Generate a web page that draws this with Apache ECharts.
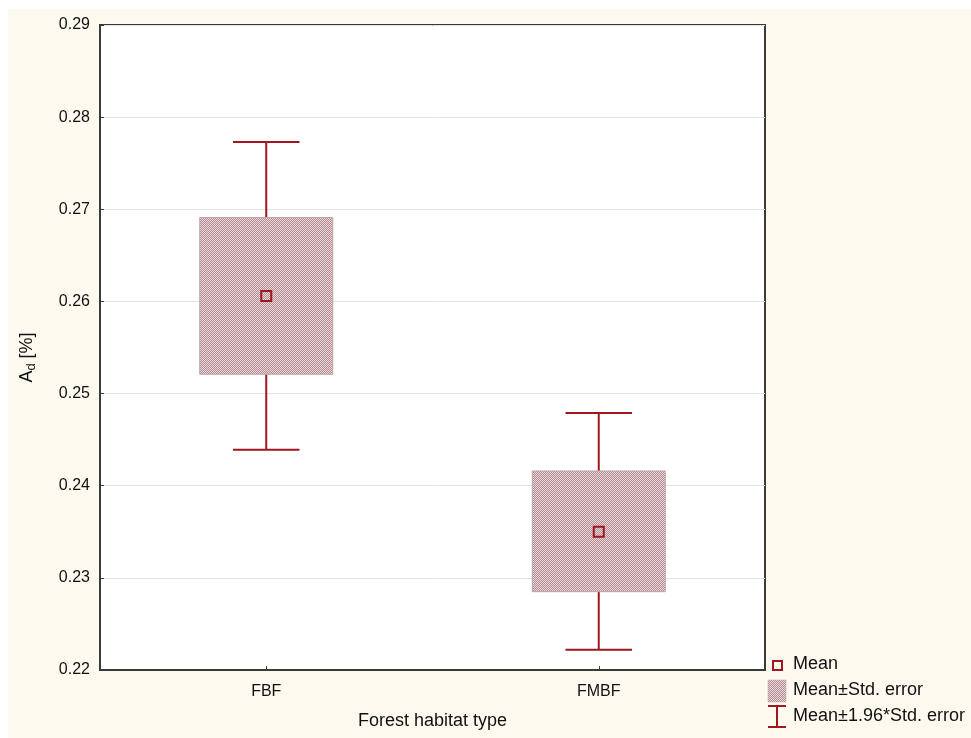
<!DOCTYPE html>
<html>
<head>
<meta charset="utf-8">
<script src="https://cdn.jsdelivr.net/npm/echarts@6/dist/echarts.min.js"></script>
<style>
html,body{margin:0;padding:0;background:#ffffff;}
#chart{position:absolute;left:8px;top:9px;width:963px;height:729px;background:#fdf9ef;}
</style>
</head>
<body>
<div id="chart"></div>
<script>
// ---- data ----
const categories = ['FBF', 'FMBF'];
const means = [0.2606, 0.2350];
const seLow = [0.2521, 0.2285];
const seHigh = [0.2691, 0.2416];
const ciLow = [0.2439, 0.2222];
const ciHigh = [0.2773, 0.2479];
const yTicks = [0.22, 0.23, 0.24, 0.25, 0.26, 0.27, 0.28, 0.29];
const legendLabels = ['Mean', 'Mean±Std. error', 'Mean±1.96*Std. error'];

const RED = '#a0171e';
const FONT = '"Liberation Sans", Arial, sans-serif';

// checkerboard pattern for boxes
const pc = document.createElement('canvas');
pc.width = 2; pc.height = 2;
const pctx = pc.getContext('2d');
pctx.fillStyle = '#e6d8da'; pctx.fillRect(0, 0, 2, 2);
pctx.fillStyle = '#b68c92'; pctx.fillRect(0, 0, 1, 1); pctx.fillRect(1, 1, 1, 1);
const pattern = {image: pc, repeat: 'repeat'};

const chart = echarts.init(document.getElementById('chart'), null, {renderer: 'canvas'});

const whiskerData = categories.map((c, i) => [i, ciLow[i], ciHigh[i], seLow[i], seHigh[i]]);
const boxData = categories.map((c, i) => [i, seLow[i], seHigh[i]]);
const meanData = categories.map((c, i) => [i, means[i]]);

// legend geometry (container coords)
const LX = 760, LY = 651;
const legendGraphic = [
  {type: 'rect', shape: {x: LX + 5, y: LY + 1, width: 9, height: 9},
   style: {fill: 'transparent', stroke: RED, lineWidth: 2}},
  {type: 'text', x: LX + 25, y: LY + 4, style: {text: legendLabels[0], font: '18px ' + FONT, fill: '#111', verticalAlign: 'middle'}},
  {type: 'rect', shape: {x: LX, y: LY + 20, width: 18, height: 22},
   style: {fill: pattern, stroke: '#c0a8ac', lineWidth: 0.5}},
  {type: 'text', x: LX + 25, y: LY + 30, style: {text: legendLabels[1], font: '18px ' + FONT, fill: '#111', verticalAlign: 'middle'}},
  {type: 'polyline', shape: {points: [[LX, LY + 46], [LX + 18, LY + 46]]}, style: {stroke: RED, lineWidth: 2}},
  {type: 'polyline', shape: {points: [[LX + 9, LY + 46], [LX + 9, LY + 67]]}, style: {stroke: RED, lineWidth: 2}},
  {type: 'polyline', shape: {points: [[LX, LY + 67], [LX + 18, LY + 67]]}, style: {stroke: RED, lineWidth: 2}},
  {type: 'text', x: LX + 25, y: LY + 56, style: {text: legendLabels[2], font: '18px ' + FONT, fill: '#111', verticalAlign: 'middle'}}
];

const option = {
  animation: false,
  backgroundColor: '#fdf9ef',
  grid: {left: 92, top: 16, width: 665, height: 645, show: true, backgroundColor: '#ffffff',
         borderColor: '#3a3a3a', borderWidth: 2},
  xAxis: {
    type: 'category', data: categories, boundaryGap: true,
    axisLine: {show: true, lineStyle: {color: '#3a3a3a', width: 2}},
    axisTick: {show: true, inside: true, length: 4, alignWithLabel: true, lineStyle: {color: '#3a3a3a'}},
    axisLabel: {margin: 14, fontSize: 16, fontFamily: FONT, color: '#111'},
    splitLine: {show: false},
    name: 'Forest habitat type', nameLocation: 'middle', nameGap: 42,
    nameTextStyle: {fontSize: 18, fontFamily: FONT, color: '#111'}
  },
  yAxis: {
    type: 'value', min: 0.22, max: 0.29, interval: 0.01,
    axisLine: {show: true, lineStyle: {color: '#3a3a3a', width: 2}},
    axisTick: {show: true, inside: true, length: 4, lineStyle: {color: '#3a3a3a'}},
    axisLabel: {margin: 10, fontSize: 16, fontFamily: FONT, color: '#111',
                formatter: v => { const t = yTicks.find(x => Math.abs(x - v) < 1e-9); return (t !== undefined ? t : v).toFixed(2); }},
    splitLine: {show: true, lineStyle: {color: '#e3e3e3', width: 1}},
    name: '{a|A}{s|d}{a| [%]}', nameLocation: 'middle', nameGap: 62,
    nameTextStyle: {fontFamily: FONT, color: '#111', padding: [0, 20, 0, 0],
      rich: {a: {fontSize: 18, fontFamily: FONT, color: '#111'},
             s: {fontSize: 13, fontFamily: FONT, color: '#111', verticalAlign: 'bottom', padding: [8, 0, 0, 0]}}}
  },
  series: [
    {
      type: 'custom', name: 'ci', data: whiskerData, z: 2,
      renderItem: function (params, api) {
        const i = api.value(0);
        const bw = api.size([1, 0])[0];
        const capHalf = bw * 0.1;
        const lo = api.coord([i, api.value(1)]);
        const hi = api.coord([i, api.value(2)]);
        const sl = api.coord([i, api.value(3)]);
        const sh = api.coord([i, api.value(4)]);
        const st = {stroke: RED, lineWidth: 2, fill: null};
        return {type: 'group', children: [
          {type: 'line', shape: {x1: hi[0], y1: hi[1], x2: sh[0], y2: sh[1]}, style: st},
          {type: 'line', shape: {x1: lo[0], y1: lo[1], x2: sl[0], y2: sl[1]}, style: st},
          {type: 'line', shape: {x1: hi[0] - capHalf, y1: hi[1], x2: hi[0] + capHalf, y2: hi[1]}, style: st},
          {type: 'line', shape: {x1: lo[0] - capHalf, y1: lo[1], x2: lo[0] + capHalf, y2: lo[1]}, style: st}
        ]};
      }
    },
    {
      type: 'custom', name: 'se', data: boxData, z: 3,
      renderItem: function (params, api) {
        const i = api.value(0);
        const bw = api.size([1, 0])[0];
        const half = bw * 0.2;
        const lo = api.coord([i, api.value(1)]);
        const hi = api.coord([i, api.value(2)]);
        return {type: 'rect', shape: {x: lo[0] - half, y: hi[1], width: half * 2, height: lo[1] - hi[1]},
                style: {fill: pattern, stroke: '#bda3a7', lineWidth: 1}};
      }
    },
    {
      type: 'scatter', name: 'mean', data: meanData, z: 4,
      symbol: 'rect', symbolSize: 10,
      itemStyle: {color: 'rgba(0,0,0,0)', borderColor: RED, borderWidth: 2, opacity: 1}
    }
  ],
  graphic: legendGraphic
};
chart.setOption(option);
</script>
</body>
</html>
